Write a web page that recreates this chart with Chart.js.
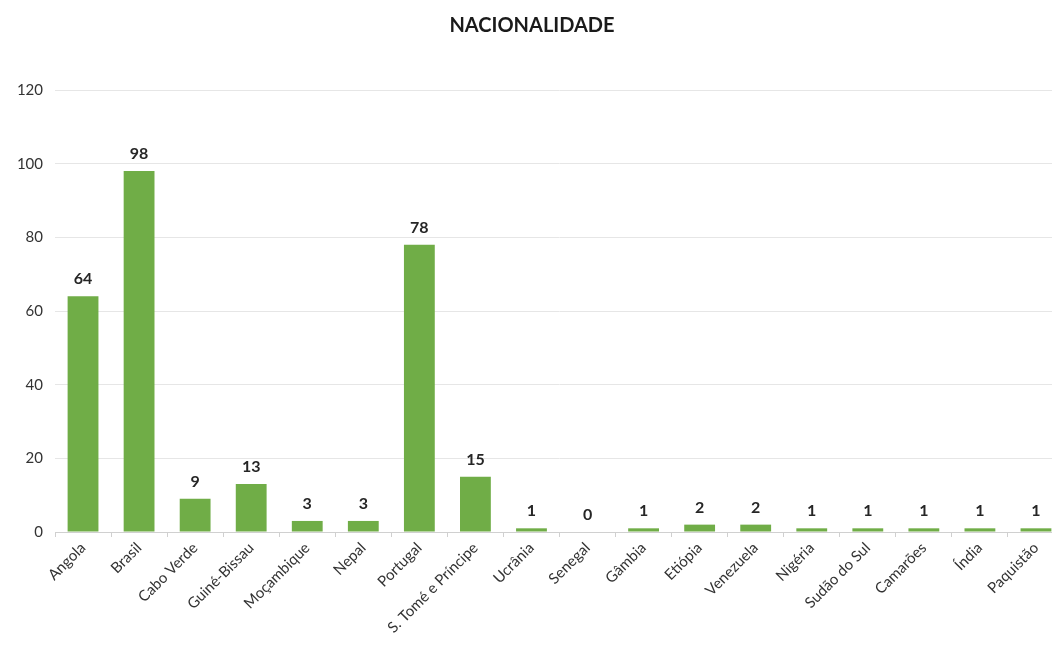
<!DOCTYPE html>
<html lang="pt-BR">
<head>
    <meta charset="UTF-8">
    <title>Nacionalidade</title>
    <script src="https://cdn.jsdelivr.net/npm/chart.js"></script>
    <style>
        html, body { margin: 0; padding: 0; background: #fff; overflow: hidden; }
        .wrap { width: 1064px; height: 661px; }
    </style>
</head>
<body>
    <div class="wrap">
        <canvas id="myChart" width="1064" height="661"></canvas>
    </div>
</body>
</html>

<script>
    // dados
    const paises = ['Angola', 'Brasil', 'Cabo Verde', 'Guiné-Bissau', 'Moçambique', 'Nepal', 'Portugal',
        'S. Tomé e Príncipe', 'Ucrânia', 'Senegal', 'Gâmbia', 'Etiópia', 'Venezuela', 'Nigéria',
        'Sudão do Sul', 'Camarões', 'Índia', 'Paquistão'];
    const quantidades = [64, 98, 9, 13, 3, 3, 78, 15, 1, 0, 1, 2, 2, 1, 1, 1, 1, 1];
    const yTicks = [0, 20, 40, 60, 80, 100, 120];

    // rótulos em cima das barras
    const rotulos = {
        id: 'rotulos',
        afterDatasetsDraw(chart) {
            const ctx = chart.ctx;
            const meta = chart.getDatasetMeta(0);
            ctx.save();
            ctx.font = 'bold 16px Lato, "Open Sans", sans-serif';
            ctx.fillStyle = '#262626';
            ctx.textAlign = 'center';
            ctx.textBaseline = 'bottom';
            meta.data.forEach((bar, i) => {
                ctx.fillText(quantidades[i], bar.x, bar.y - 9);
            });
            ctx.restore();
        }
    };

    const ctx = document.getElementById('myChart').getContext('2d');
    const myChart = new Chart(ctx, {
        type: 'bar',
        data: {
            labels: paises,
            datasets: [{
                label: 'Nacionalidade',
                data: quantidades,
                backgroundColor: '#70ad47',
                borderWidth: 0,
                barPercentage: 0.55,
                categoryPercentage: 1
            }]
        },
        options: {
            responsive: false,
            animation: false,
            layout: { padding: { left: 0, right: 0, top: 0, bottom: 0 } },
            plugins: {
                legend: { display: false },
                tooltip: { enabled: false },
                title: {
                    display: true,
                    text: 'NACIONALIDADE',
                    color: '#1a1a1a',
                    font: { family: 'Lato, "Open Sans", sans-serif', size: 20, weight: 'bold' },
                    padding: { top: 14, bottom: 52 }
                }
            },
            scales: {
                x: {
                    grid: {
                        drawOnChartArea: false,
                        drawTicks: true,
                        tickLength: 5,
                        color: '#d0d0d0',
                        offset: true
                    },
                    border: { display: true, color: '#d0d0d0' },
                    ticks: {
                        autoSkip: false,
                        maxRotation: 45,
                        minRotation: 45,
                        color: '#333333',
                        padding: 2,
                        font: { family: 'Lato, "Open Sans", sans-serif', size: 15 }
                    },
                    afterFit(scale) { scale.height = 129; }
                },
                y: {
                    min: 0,
                    max: 120,
                    afterBuildTicks(scale) { scale.ticks = yTicks.map(v => ({ value: v })); },
                    grid: { color: '#e6e6e6', drawTicks: false },
                    border: { display: false },
                    ticks: {
                        color: '#333333',
                        padding: 12,
                        font: { family: 'Lato, "Open Sans", sans-serif', size: 15 }
                    },
                    afterFit(scale) { scale.width = 55; }
                }
            }
        },
        plugins: [rotulos]
    });
</script>
